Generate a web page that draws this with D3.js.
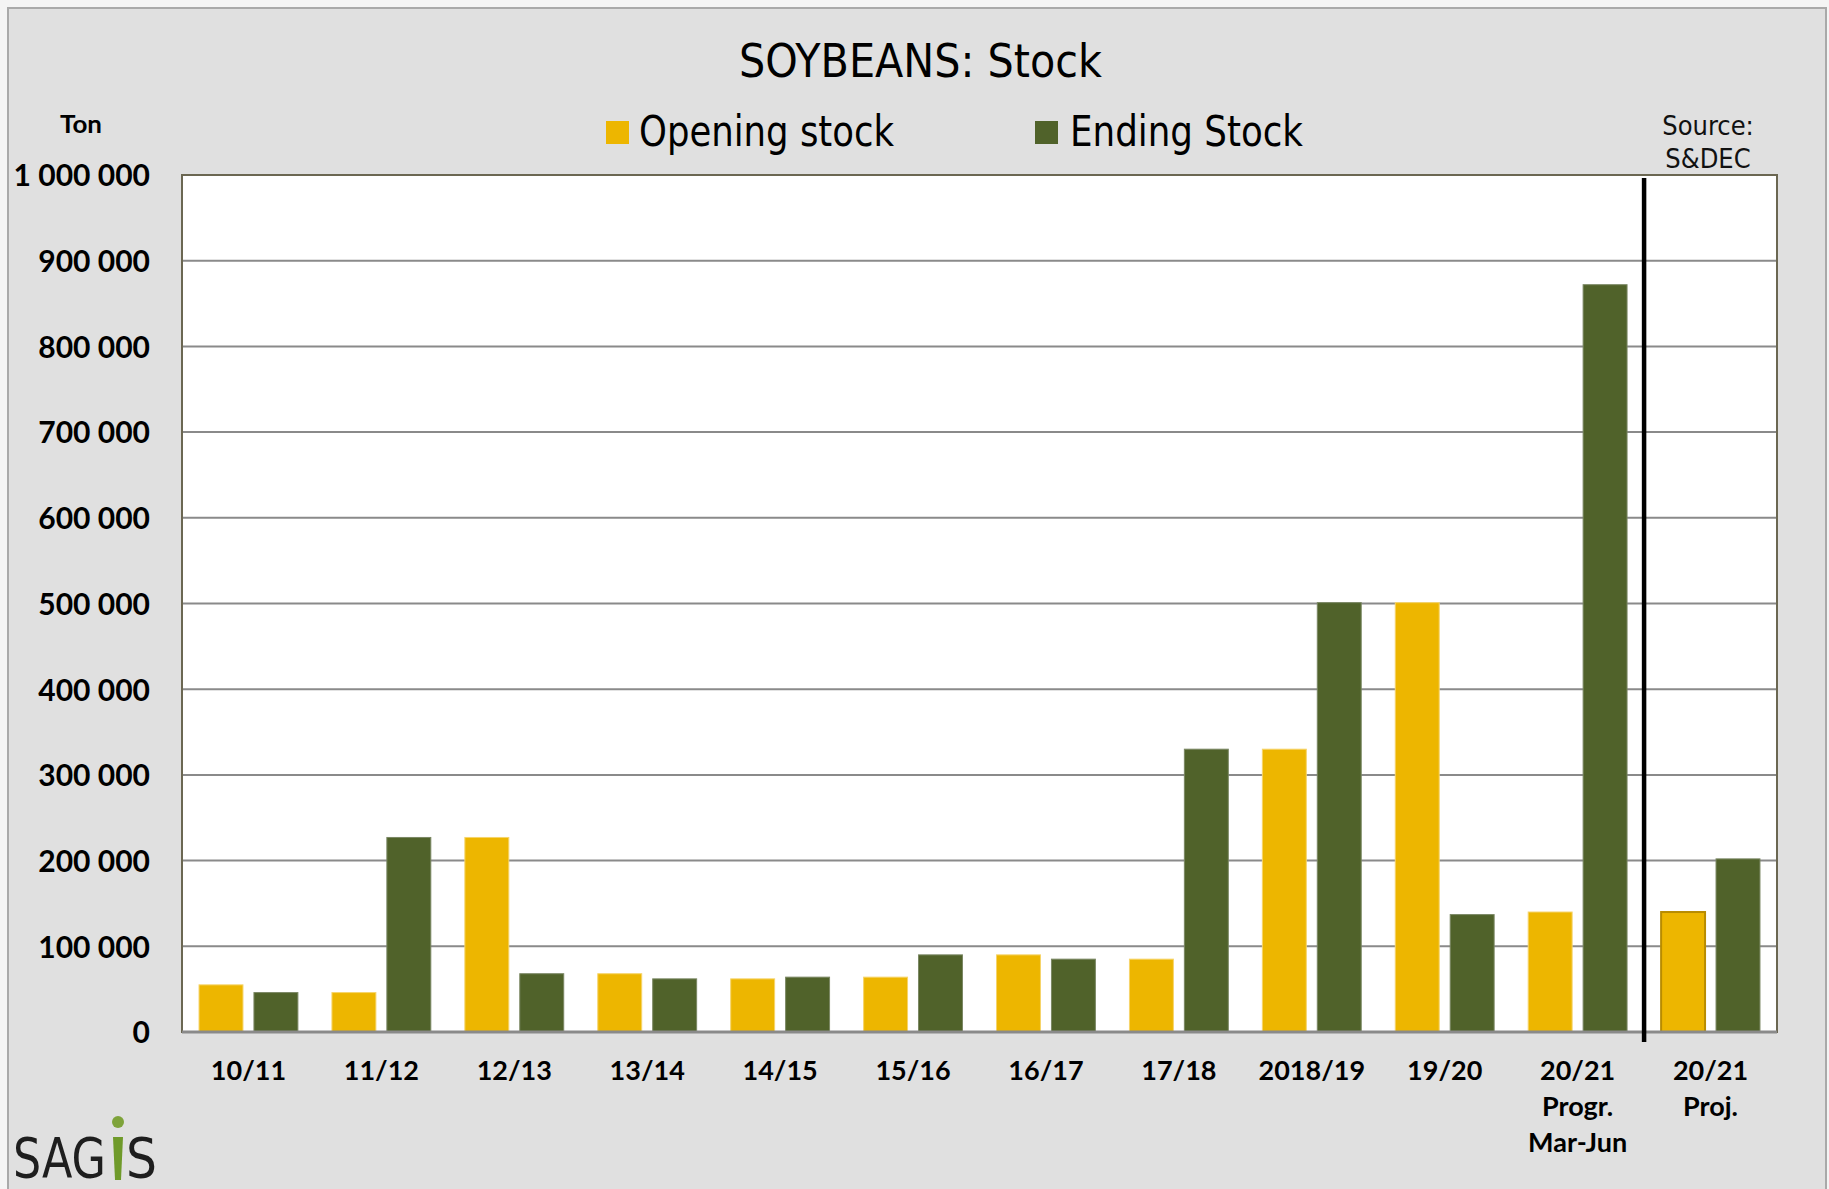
<!DOCTYPE html>
<html><head><meta charset="utf-8">
<script src="https://cdn.jsdelivr.net/npm/d3@7"></script>
<style>body{margin:0;background:#fff;} svg{display:block}</style>
</head><body>
<svg id="c" width="1829" height="1189"></svg>
<script>
// ---- data ----
const categories = ["10/11","11/12","12/13","13/14","14/15","15/16","16/17","17/18","2018/19","19/20","20/21\nProgr.\nMar-Jun","20/21\nProj."];
const openingStock = [55000,46000,227000,68000,62000,64000,90000,85000,330000,501000,140000,140000];
const endingStock  = [46000,227000,68000,62000,64000,90000,85000,330000,501000,137000,872000,202000];
const seriesNames = ["Opening stock","Ending Stock"];
const yTicks = [0,100000,200000,300000,400000,500000,600000,700000,800000,900000,1000000];
const titleText = "SOYBEANS: Stock";
const unitText = "Ton";
const sourceLines = ["Source:","S&DEC"];

// ---- layout ----
const svg = d3.select("#c");
const W = 1829, H = 1189;
const m = {left:182, top:175, right:1777, bottom:1032};
const gold = "#EDB600", green = "#50622A";
const narrow = "'Liberation Sans Narrow','DejaVu Sans Condensed','Liberation Sans',sans-serif";
const boldF = "Lato,'Open Sans',sans-serif";

// background frame
svg.append("rect").attr("x",0).attr("y",0).attr("width",W).attr("height",H).attr("fill","#f4f4f4");
svg.append("rect").attr("x",8).attr("y",8).attr("width",1818).attr("height",1200)
  .attr("fill","#E0E0E0").attr("stroke","#a9a9a9").attr("stroke-width",2);

// scales
const x0 = d3.scaleBand().domain(categories).range([m.left, m.right]).paddingInner(0).paddingOuter(0);
const x1 = d3.scaleBand().domain(seriesNames).range([0, x0.bandwidth()]).paddingInner(0.2).paddingOuter(0.31);
const y = d3.scaleLinear().domain([0,1000000]).range([m.bottom, m.top]);

// plot area
svg.append("rect").attr("x",m.left).attr("y",m.top).attr("width",m.right-m.left).attr("height",m.bottom-m.top)
  .attr("fill","#fff");

// gridlines
svg.append("g").selectAll("line").data(yTicks.filter(v=>v>0 && v<1000000)).join("line")
  .attr("x1",m.left).attr("x2",m.right).attr("y1",d=>y(d)).attr("y2",d=>y(d))
  .attr("stroke","#8a8a8a").attr("stroke-width",2);

// bars
const rows = categories.map((c,i)=>({c, vals:[{s:seriesNames[0],v:openingStock[i]},{s:seriesNames[1],v:endingStock[i]}], i}));
const g = svg.append("g");
rows.forEach(r=>{
  g.selectAll(null).data(r.vals).join("rect")
    .attr("x",d=>x0(r.c)+x1(d.s))
    .attr("width",x1.bandwidth())
    .attr("y",d=>y(d.v))
    .attr("height",d=>y(0)-y(d.v))
    .attr("fill",d=>d.s===seriesNames[0]?gold:green)
    .attr("stroke",d=> d.s===seriesNames[0] ? (r.i===categories.length-1 ? "#b88c00" : "#f6d46a") : "#7a8763")
    .attr("stroke-width",d=> (d.s===seriesNames[0] && r.i===categories.length-1) ? 2 : 1);
});

// plot border
svg.append("rect").attr("x",m.left).attr("y",m.top).attr("width",m.right-m.left).attr("height",m.bottom-m.top)
  .attr("fill","none").attr("stroke","#6b6752").attr("stroke-width",2);
// baseline
svg.append("line").attr("x1",m.left).attr("x2",m.right).attr("y1",y(0)).attr("y2",y(0))
  .attr("stroke","#8a8a8a").attr("stroke-width",3);

// separator line
const sepX = x0(categories[categories.length-1]);
svg.append("line").attr("x1",sepX).attr("x2",sepX).attr("y1",m.top+3).attr("y2",m.bottom+10)
  .attr("stroke","#000").attr("stroke-width",4.5);

// y axis labels
const fmt = d3.formatLocale({decimal:".", thousands:" ", grouping:[3], currency:["",""]}).format(",d");
const yAxis = d3.axisLeft(y).tickValues(yTicks).tickFormat(fmt).tickSize(0).tickPadding(0);
const ya = svg.append("g").attr("transform","translate(150,0)").call(yAxis);
ya.select(".domain").remove();
ya.selectAll("text").attr("font-family",boldF).attr("font-weight",700).attr("font-size",30)
  .attr("fill","#000").attr("dy","0.36em");

// x axis labels
const xAxis = d3.axisBottom(x0).tickSize(0).tickFormat("");
const xa = svg.append("g").attr("transform",`translate(0,${m.bottom})`).call(xAxis);
xa.select(".domain").remove();
xa.selectAll(".tick").each(function(d){
  const lines = d.split("\n");
  const t = d3.select(this).append("text").attr("text-anchor","middle")
    .attr("font-family",boldF).attr("font-weight",700).attr("font-size",27).attr("fill","#000");
  lines.forEach((ln,k)=>{
    t.append("tspan").attr("x",0).attr("y",48 + k*36).text(ln);
  });
});

// title
svg.append("text").attr("x",739).attr("y",77).attr("font-family",narrow).attr("font-size",47)
  .attr("textLength",363).attr("lengthAdjust","spacingAndGlyphs").attr("fill","#000").text(titleText);

// legend
const legendPos = [{sx:606, tx:639, tl:255},{sx:1035, tx:1070, tl:233}];
seriesNames.forEach((s,i)=>{
  svg.append("rect").attr("x",legendPos[i].sx).attr("y",121).attr("width",23).attr("height",23)
    .attr("fill", i===0?gold:green);
  svg.append("text").attr("x",legendPos[i].tx).attr("y",146).attr("font-family",narrow).attr("font-size",43)
    .attr("textLength",legendPos[i].tl).attr("lengthAdjust","spacingAndGlyphs").attr("fill","#000").text(s);
});

// unit
svg.append("text").attr("x",60).attr("y",133).attr("font-family",boldF).attr("font-weight",700)
  .attr("font-size",24).attr("textLength",42).attr("lengthAdjust","spacingAndGlyphs").text(unitText);

// source
sourceLines.forEach((s,i)=>{
  svg.append("text").attr("x",1708).attr("y",135+i*33).attr("text-anchor","middle")
    .attr("font-family",narrow).attr("font-size",27).attr("fill","#111").text(s);
});

// SAGIS logo
svg.append("text").attr("x",13).attr("y",1177).attr("font-family",narrow)
  .attr("font-size",56).attr("fill","#1e1e1e").attr("textLength",93).attr("lengthAdjust","spacingAndGlyphs").text("SAG");
svg.append("path").attr("d","M113,1137 L123,1137 L121,1180 L115,1180 Z").attr("fill","#6f9a2a");
svg.append("circle").attr("cx",118).attr("cy",1122).attr("r",6).attr("fill","#7ea33a");
svg.append("text").attr("x",126).attr("y",1177).attr("font-family",narrow)
  .attr("font-size",56).attr("fill","#1e1e1e").attr("textLength",31).attr("lengthAdjust","spacingAndGlyphs").text("S");
</script>
</body></html>
